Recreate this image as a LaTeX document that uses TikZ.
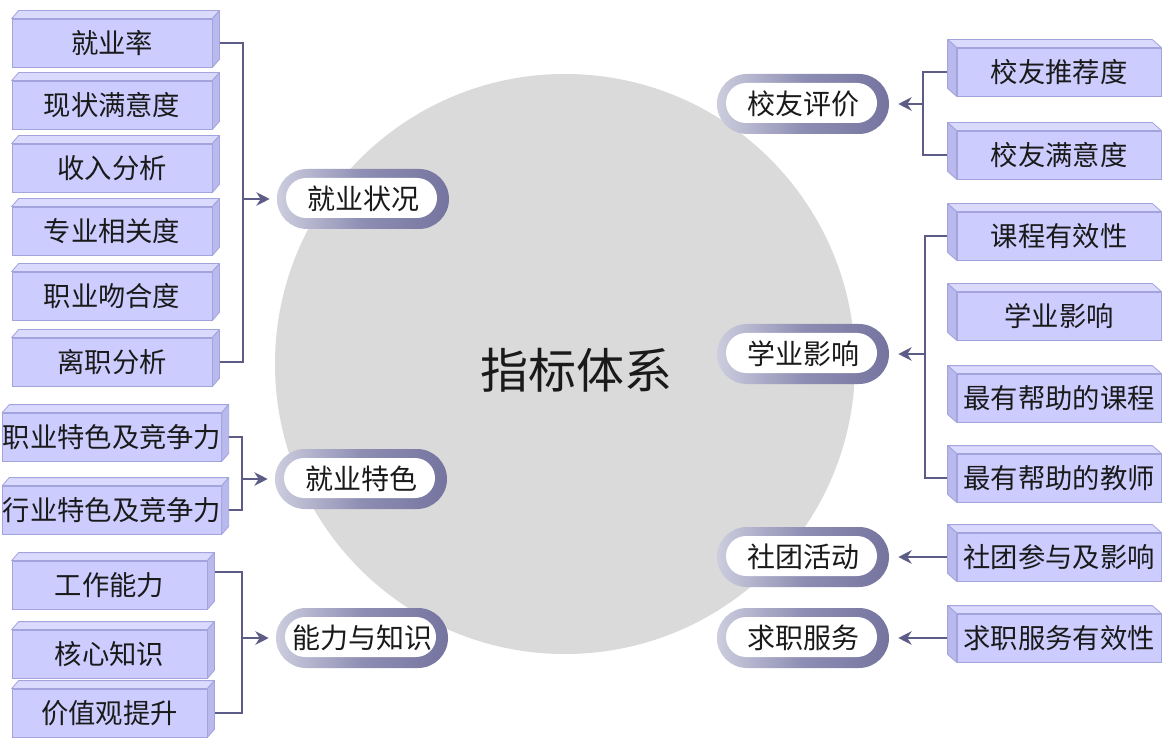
\documentclass[tikz,border=0pt]{standalone}
\usepackage{fontspec}
\setmainfont{Noto Sans CJK SC}
\usetikzlibrary{arrows.meta,calc}
\pgfdeclarelayer{bg}
\pgfsetlayers{bg,main}
\definecolor{boxfront}{HTML}{CCCCFF}
\definecolor{boxtop}{HTML}{DADAFF}
\definecolor{boxside}{HTML}{B9B9EE}
\definecolor{boxedge}{HTML}{A3A3DD}
\definecolor{conncol}{HTML}{5C5C86}
\definecolor{circcol}{HTML}{DADADA}
\definecolor{pillL}{HTML}{CDCDDF}
\definecolor{pillM}{HTML}{8E8EB4}
\definecolor{pillR}{HTML}{74749F}
\definecolor{txt}{HTML}{1A1A1A}
\newcommand\facesL[1]{%
  \draw[topface] (#1.north west) -- ++(7,-8) -- ($(#1.north east)+(7,-8)$) -- (#1.north east) -- cycle;
  \draw[sideface] (#1.north east) -- ++(7,-8) -- ($(#1.south east)+(7,-8)$) -- (#1.south east) -- cycle;}
\newcommand\facesR[1]{%
  \draw[topface] (#1.north east) -- ++(-9,-8) -- ($(#1.north west)+(-9,-8)$) -- (#1.north west) -- cycle;
  \draw[sideface] (#1.north west) -- ++(-9,-8) -- ($(#1.south west)+(-9,-8)$) -- (#1.south west) -- cycle;}
\begin{document}
\begin{tikzpicture}[x=0.75pt,y=-0.75pt,
  leaf/.style={draw=boxedge, line width=0.6pt, fill=boxfront, minimum height=36pt, inner sep=0pt,
    font=\fontsize{20.5pt}{22pt}\selectfont, text=txt},
  leafA/.style={leaf, minimum width=150pt},
  leafB/.style={leaf, minimum width=146.25pt},
  leafR/.style={leaf, minimum width=153pt},
  pill/.style={rounded corners=22.5pt, minimum width=129pt, minimum height=45pt, inner sep=0pt,
    left color=pillL, right color=pillR, middle color=pillM,
    font=\fontsize{21pt}{23pt}\selectfont, text=txt,
    path picture={\fill[white,rounded corners=15pt]
      ([xshift=6.75pt,yshift=-6.75pt]path picture bounding box.north west) rectangle
      ([xshift=-9pt,yshift=8.25pt]path picture bounding box.south east);}},
  conn/.style={draw=conncol, line width=1.8pt},
  arr/.style={conn, -{Stealth[length=10pt,width=10pt]}},
  topface/.style={fill=boxtop, draw=boxedge, line width=0.6pt, line join=round},
  sideface/.style={fill=boxside, draw=boxedge, line width=0.6pt, line join=round},
]
\useasboundingbox (0,0) rectangle (1165,738);

% title
\node[font=\fontsize{36pt}{40pt}\selectfont, text=txt] (title) at (576,370) {指标体系};

% left group 1
\node[leafA] (a1) at (112,43) {就业率};
\node[leafA] (a2) at (112,105) {现状满意度};
\node[leafA] (a3) at (112,168) {收入分析};
\node[leafA] (a4) at (112,231) {专业相关度};
\node[leafA] (a5) at (112,296) {职业吻合度};
\node[leafA] (a6) at (112,362) {离职分析};
\node[pill] (p1) at (363,199) {就业状况};
\coordinate (t1) at (243,199);

% left group 2
\node[leafA] (b1) at (112,437) {职业特色及竞争力};
\node[leafA] (b2) at (112,510) {行业特色及竞争力};
\node[pill] (p2) at (361,479) {就业特色};
\coordinate (t2) at (242,479);

% left group 3
\node[leafB] (c1) at (109.5,585) {工作能力};
\node[leafB] (c2) at (109.5,654) {核心知识};
\node[leafB] (c3) at (109.5,713) {价值观提升};
\node[pill] (p3) at (362,638) {能力与知识};
\coordinate (t3) at (242,638);

% right group 1
\node[leafR] (d1) at (1059,72) {校友推荐度};
\node[leafR] (d2) at (1059,155) {校友满意度};
\node[pill] (q1) at (803,104) {校友评价};
\coordinate (u1) at (923,104);

% right group 2
\node[leafR] (e1) at (1059,236) {课程有效性};
\node[leafR] (e2) at (1059,316) {学业影响};
\node[leafR] (e3) at (1059,398) {最有帮助的课程};
\node[leafR] (e4) at (1059,478) {最有帮助的教师};
\node[pill] (q2) at (803,354) {学业影响};
\coordinate (u2) at (925,354);

% right group 3, 4
\node[leafR] (f1) at (1059,557) {社团参与及影响};
\node[pill] (q3) at (803,557) {社团活动};
\node[leafR] (g1) at (1059,638) {求职服务有效性};
\node[pill] (q4) at (803,638) {求职服务};

% 3D faces
\foreach \n in {a1,a2,a3,a4,a5,a6,b1,b2,c1,c2,c3} {\facesL{\n}}
\foreach \n in {d1,d2,e1,e2,e3,e4,f1,g1} {\facesR{\n}}

\begin{pgfonlayer}{bg}
  \fill[white] (0,0) rectangle (1165,738);
  \fill[circcol] (565,364) circle [radius=217.5pt];
  \draw[conn] (a1.east) -| (t1) |- (a6.east);
  \draw[arr, shorten >=5.25pt] (t1) -- (p1.west);
  \draw[conn] (b1.east) -| (t2) |- (b2.east);
  \draw[arr, shorten >=5.25pt] (t2) -- (p2.west);
  \draw[conn] ($(c1.east)+(0,-13)$) -| (t3) |- (c3.east);
  \draw[arr, shorten >=5.25pt] (t3) -- (p3.west);
  \draw[conn] (d1.west) -| (u1) |- (d2.west);
  \draw[arr, shorten >=6.75pt] (u1) -- (q1.east);
  \draw[conn] (e1.west) -| (u2) |- (e4.west);
  \draw[arr, shorten >=6.75pt] (u2) -- (q2.east);
  \draw[arr, shorten >=6.75pt] (f1.west) -- (q3.east);
  \draw[arr, shorten >=6.75pt] (g1.west) -- (q4.east);
\end{pgfonlayer}
\end{tikzpicture}
\end{document}
